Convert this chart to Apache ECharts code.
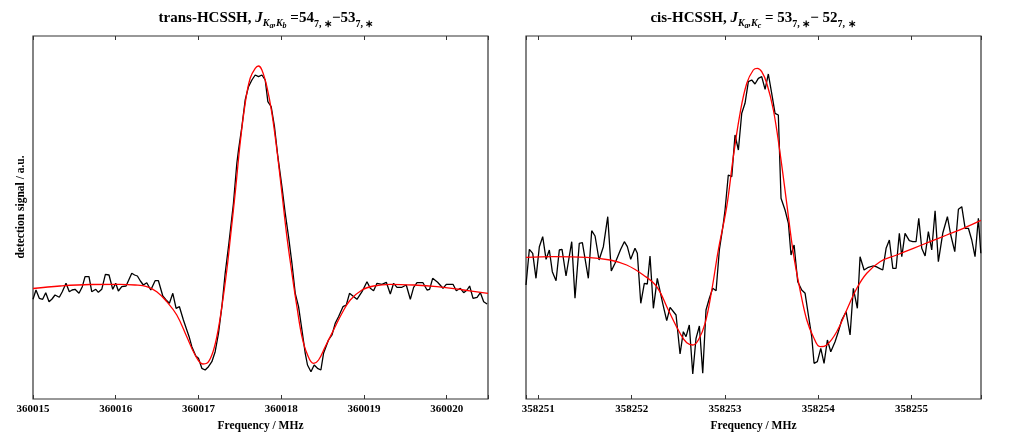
<!DOCTYPE html>
<html>
<head>
<meta charset="utf-8">
<script src="https://cdn.jsdelivr.net/npm/echarts@6/dist/echarts.min.js"></script>
<style>html,body{margin:0;padding:0;background:#fff}#c{width:1035px;height:445px}</style>
</head>
<body>
<div id="c"></div>
<script>
// ---- trans-HCSSH (left panel) ----
const transBase = 360015;
const transFreqOffset = [0.000,0.036,0.076,0.117,0.154,0.194,0.230,0.266,0.318,0.354,0.399,0.439,0.472,0.508,0.556,0.596,0.629,0.677,0.710,0.759,0.790,0.831,0.875,0.919,0.964,1.000,1.032,1.073,1.125,1.194,1.228,1.262,1.298,1.334,1.375,1.424,1.476,1.516,1.569,1.609,1.649,1.690,1.730,1.770,1.818,1.859,1.887,1.920,1.968,2.000,2.041,2.081,2.121,2.162,2.202,2.242,2.283,2.323,2.363,2.423,2.464,2.484,2.525,2.565,2.605,2.646,2.686,2.726,2.767,2.807,2.839,2.879,2.919,2.960,3.009,3.049,3.089,3.130,3.170,3.210,3.251,3.291,3.318,3.360,3.399,3.439,3.480,3.512,3.572,3.614,3.653,3.693,3.747,3.787,3.826,3.916,3.977,4.037,4.077,4.117,4.158,4.218,4.271,4.319,4.359,4.400,4.460,4.512,4.561,4.601,4.642,4.714,4.763,4.794,4.831,4.891,4.956,4.996,5.077,5.117,5.166,5.206,5.247,5.278,5.319,5.368,5.408,5.448,5.489];
const transSignal = [99.7,109,100.7,99.7,106.3,97.3,100,104,101.7,107.3,115.7,107.3,109,109.7,105.7,112.3,122.3,122.3,107.3,109.7,106.7,109.7,124.7,124,109.7,115.7,108,112.3,113,125.7,124,123,118,114,116.3,109,118.3,118.3,103,99,95.7,105.7,90.7,92.3,79,69,62.3,52.3,43,40.7,30.7,29,32.3,37.3,47.3,65.7,92.3,125.7,152.3,195.7,235.7,249,272.3,299,312.3,319,324,322.3,324,319,297.3,292.3,272.3,242.3,212.3,185.7,162.3,135.7,105.7,92.3,69,45.7,34,27.3,34,30.7,29,45.7,59,64,75.7,82.3,92.3,94,105.7,99.7,107.3,117.3,110.7,108.3,115.7,114.7,116.7,105,115.7,111.7,111.7,114,99.7,111.7,116.3,116.3,109,109.7,120.7,116.7,110.7,114.7,114.7,108.3,110.7,106.3,109,113,100.7,101.7,106.3,97.3,95];
const transFitOffset = [0.000,0.327,0.690,1.053,1.234,1.375,1.496,1.617,1.738,1.859,1.960,2.053,2.101,2.162,2.222,2.283,2.343,2.383,2.444,2.504,2.565,2.625,2.686,2.726,2.767,2.827,2.888,2.948,3.009,3.069,3.130,3.190,3.251,3.311,3.391,3.452,3.532,3.633,3.735,3.835,3.977,4.117,4.319,4.601,4.884,5.206,5.500];
const transFit = [110.5,113,114.5,114.7,114,112.3,107.3,97.3,84,62.3,44,35,35.7,44,62.3,92.3,129,159,205.7,255.7,295.7,320.7,330.7,333,329,312.3,285.7,249,205.7,162.3,125.7,92.3,62.3,45.7,35.7,39,52.3,69,85.7,99,109,113,114.7,114,112.3,109,105.7];

// ---- cis-HCSSH (right panel) ----
const cisBase = 358250;
const cisFreqOffset = [0.868,0.904,0.940,0.975,1.011,1.047,1.083,1.118,1.150,1.190,1.225,1.254,1.297,1.358,1.393,1.439,1.472,1.536,1.572,1.608,1.651,1.697,1.744,1.782,1.822,1.883,1.922,1.954,1.990,2.036,2.061,2.098,2.136,2.168,2.197,2.233,2.275,2.333,2.376,2.412,2.476,2.519,2.554,2.583,2.618,2.655,2.690,2.726,2.762,2.797,2.833,2.869,2.905,2.940,2.983,3.001,3.036,3.073,3.108,3.144,3.180,3.215,3.251,3.287,3.322,3.358,3.394,3.430,3.465,3.501,3.537,3.572,3.601,3.644,3.680,3.708,3.741,3.780,3.823,3.859,3.894,3.930,3.955,3.990,4.027,4.062,4.098,4.134,4.180,4.215,4.252,4.298,4.341,4.376,4.419,4.448,4.491,4.537,4.584,4.620,4.655,4.691,4.727,4.762,4.799,4.834,4.869,4.895,4.930,4.976,5.013,5.048,5.077,5.109,5.145,5.180,5.216,5.252,5.287,5.334,5.384,5.420,5.463,5.502,5.538,5.574,5.609,5.645,5.680,5.716,5.742];
const cisSignal = [114,149.7,145.7,120.7,152.3,162.3,139.7,149,127.3,118.3,149,149.7,123,157.3,100.7,155.7,156.3,120.7,168.3,163,139,152.3,182.3,128,135.7,149.7,157.3,152.3,139.7,150.7,145.7,95.7,115.7,115,143,90.7,120.7,95.7,78.3,91.7,84,45,67.3,62.3,74,25,60.7,73,25.7,89,100.7,110.7,108.3,149,175.7,189,224,222.3,264,249,285.7,295.7,317.3,319,315,320.7,322.3,309.7,325,305.7,285.7,284,200.7,189,175.7,144,154,117.3,109,105.7,84,62.3,35.7,37.3,50.7,35.7,59,47.3,57.3,67.3,79,87.3,64,110.7,90.7,142.3,129,131.7,133,132.3,130.7,129,150.7,159,130.7,130.7,165.7,142.3,165.7,158.3,157.3,157.3,180.7,150.7,143,167.3,149,188.3,137.3,165.7,182.3,164,147.3,189.7,192.3,170.7,170.7,159,142.3,180.7,145.7];
const cisFitOffset = [0.868,1.161,1.519,1.768,1.947,2.125,2.269,2.393,2.519,2.591,2.655,2.715,2.787,2.859,2.929,3.019,3.090,3.162,3.234,3.304,3.347,3.394,3.448,3.519,3.591,3.662,3.733,3.805,3.877,3.947,4.019,4.091,4.198,4.305,4.413,4.520,4.662,4.841,5.019,5.198,5.377,5.555,5.742];
const cisFit = [141.7,142.3,141.7,139,134,124,112.3,89,65.7,56.3,54,59,75.7,109,149,192.3,242.3,285.7,315.7,329,330.7,327.3,315.7,289,245.7,195.7,145.7,109,79,62.3,52.3,54,67.3,89,110.7,125.7,137.3,144,150.7,157.3,164,170.7,178.7];

// axis ranges / labels
const transRange = [360015, 360020.5];
const cisRange = [358250.868, 358255.744];
const xName = 'Frequency / MHz';
const yName = 'detection signal / a.u.';

function pairs(base, off, val) { return off.map((o, i) => [base + o, val[i]]); }

const serif = 'Liberation Serif';
const titleRich = {
  b: {fontFamily: serif, fontWeight: 'bold', fontSize: 15, color: '#000'},
  i: {fontFamily: serif, fontStyle: 'italic', fontSize: 15, color: '#000'},
  n: {fontFamily: serif, fontSize: 15, color: '#000'},
  s: {fontFamily: serif, fontStyle: 'italic', fontSize: 10, color: '#000', padding: [9, 0, 0, 0]},
  ss: {fontFamily: serif, fontStyle: 'italic', fontSize: 8, color: '#000', padding: [15, 0, 0, 0]},
  d: {fontFamily: serif, fontSize: 10, color: '#000', padding: [12, 0, 0, 0]}
};

function intLabel(v) { return Math.abs(v - Math.round(v)) < 1e-6 ? String(Math.round(v)) : ''; }

function bottomAxis(g, r, interval) {
  const a = {
    type: 'value', gridIndex: g, position: 'bottom', min: r[0], max: r[1],
    axisLine: {show: false}, splitLine: {show: false},
    axisTick: {show: true, inside: true, length: 4, lineStyle: {color: '#333', width: 1}},
    axisLabel: {show: true, margin: 5, formatter: intLabel, fontFamily: serif, fontWeight: 'bold', fontSize: 11, color: '#000'},
    name: xName, nameLocation: 'middle', nameGap: 19,
    nameTextStyle: {fontFamily: serif, fontWeight: 'bold', fontSize: 11.5, color: '#000'}
  };
  if (interval) a.interval = interval; else a.splitNumber = 5;
  return a;
}
function topAxis(g, r, interval) {
  const a = {
    type: 'value', gridIndex: g, position: 'top', min: r[0], max: r[1],
    axisLine: {show: false}, splitLine: {show: false},
    axisTick: {show: true, inside: true, length: 4, lineStyle: {color: '#333', width: 1}},
    axisLabel: {show: false}
  };
  if (interval) a.interval = interval; else a.splitNumber = 5;
  return a;
}
function yAx(g) {
  return {type: 'value', gridIndex: g, min: 0, max: 363, axisLine: {show: false}, axisTick: {show: false}, axisLabel: {show: false}, splitLine: {show: false}};
}

const chart = echarts.init(document.getElementById('c'), null, {renderer: 'canvas'});
chart.setOption({
  animation: false,
  backgroundColor: '#fff',
  title: [
    {text: '{b|trans-HCSSH,} {i|J}{s|K}{ss|a}{s|,K}{ss|b}{n| =54}{d|7, ∗}{n|−53}{d|7, ∗}', left: 266, top: 7, textAlign: 'center', padding: 0,
     textStyle: {rich: titleRich, fontFamily: serif, fontSize: 15}},
    {text: '{b|cis-HCSSH,} {i|J}{s|K}{ss|a}{s|,K}{ss|c}{n| = 53}{d|7, ∗}{n|− 52}{d|7, ∗}', left: 753, top: 7, textAlign: 'center', padding: 0,
     textStyle: {rich: titleRich, fontFamily: serif, fontSize: 15}}
  ],
  grid: [
    {left: 33, right: 547, top: 36, bottom: 46, show: true, borderColor: '#333', borderWidth: 1.2, backgroundColor: 'transparent'},
    {left: 526, right: 54, top: 36, bottom: 46, show: true, borderColor: '#333', borderWidth: 1.2, backgroundColor: 'transparent'}
  ],
  xAxis: [bottomAxis(0, transRange, 1), topAxis(0, transRange, 1), bottomAxis(1, cisRange, null), topAxis(1, cisRange, null)],
  yAxis: [yAx(0), yAx(1)],
  graphic: [{
    type: 'text', x: 21, y: 207, rotation: Math.PI / 2,
    style: {text: yName, align: 'center', verticalAlign: 'middle', fontFamily: serif, fontWeight: 'bold', fontSize: 11.5, fill: '#000'}
  }],
  series: [
    {type: 'line', xAxisIndex: 0, yAxisIndex: 0, data: pairs(transBase, transFreqOffset, transSignal), showSymbol: false, lineStyle: {color: '#000', width: 1.3}, z: 2},
    {type: 'line', xAxisIndex: 0, yAxisIndex: 0, data: pairs(transBase, transFitOffset, transFit), showSymbol: false, smooth: 0.4, lineStyle: {color: '#ff0000', width: 1.3}, z: 3},
    {type: 'line', xAxisIndex: 2, yAxisIndex: 1, data: pairs(cisBase, cisFreqOffset, cisSignal), showSymbol: false, lineStyle: {color: '#000', width: 1.3}, z: 2},
    {type: 'line', xAxisIndex: 2, yAxisIndex: 1, data: pairs(cisBase, cisFitOffset, cisFit), showSymbol: false, smooth: 0.4, lineStyle: {color: '#ff0000', width: 1.3}, z: 3}
  ]
});
</script>
</body>
</html>
